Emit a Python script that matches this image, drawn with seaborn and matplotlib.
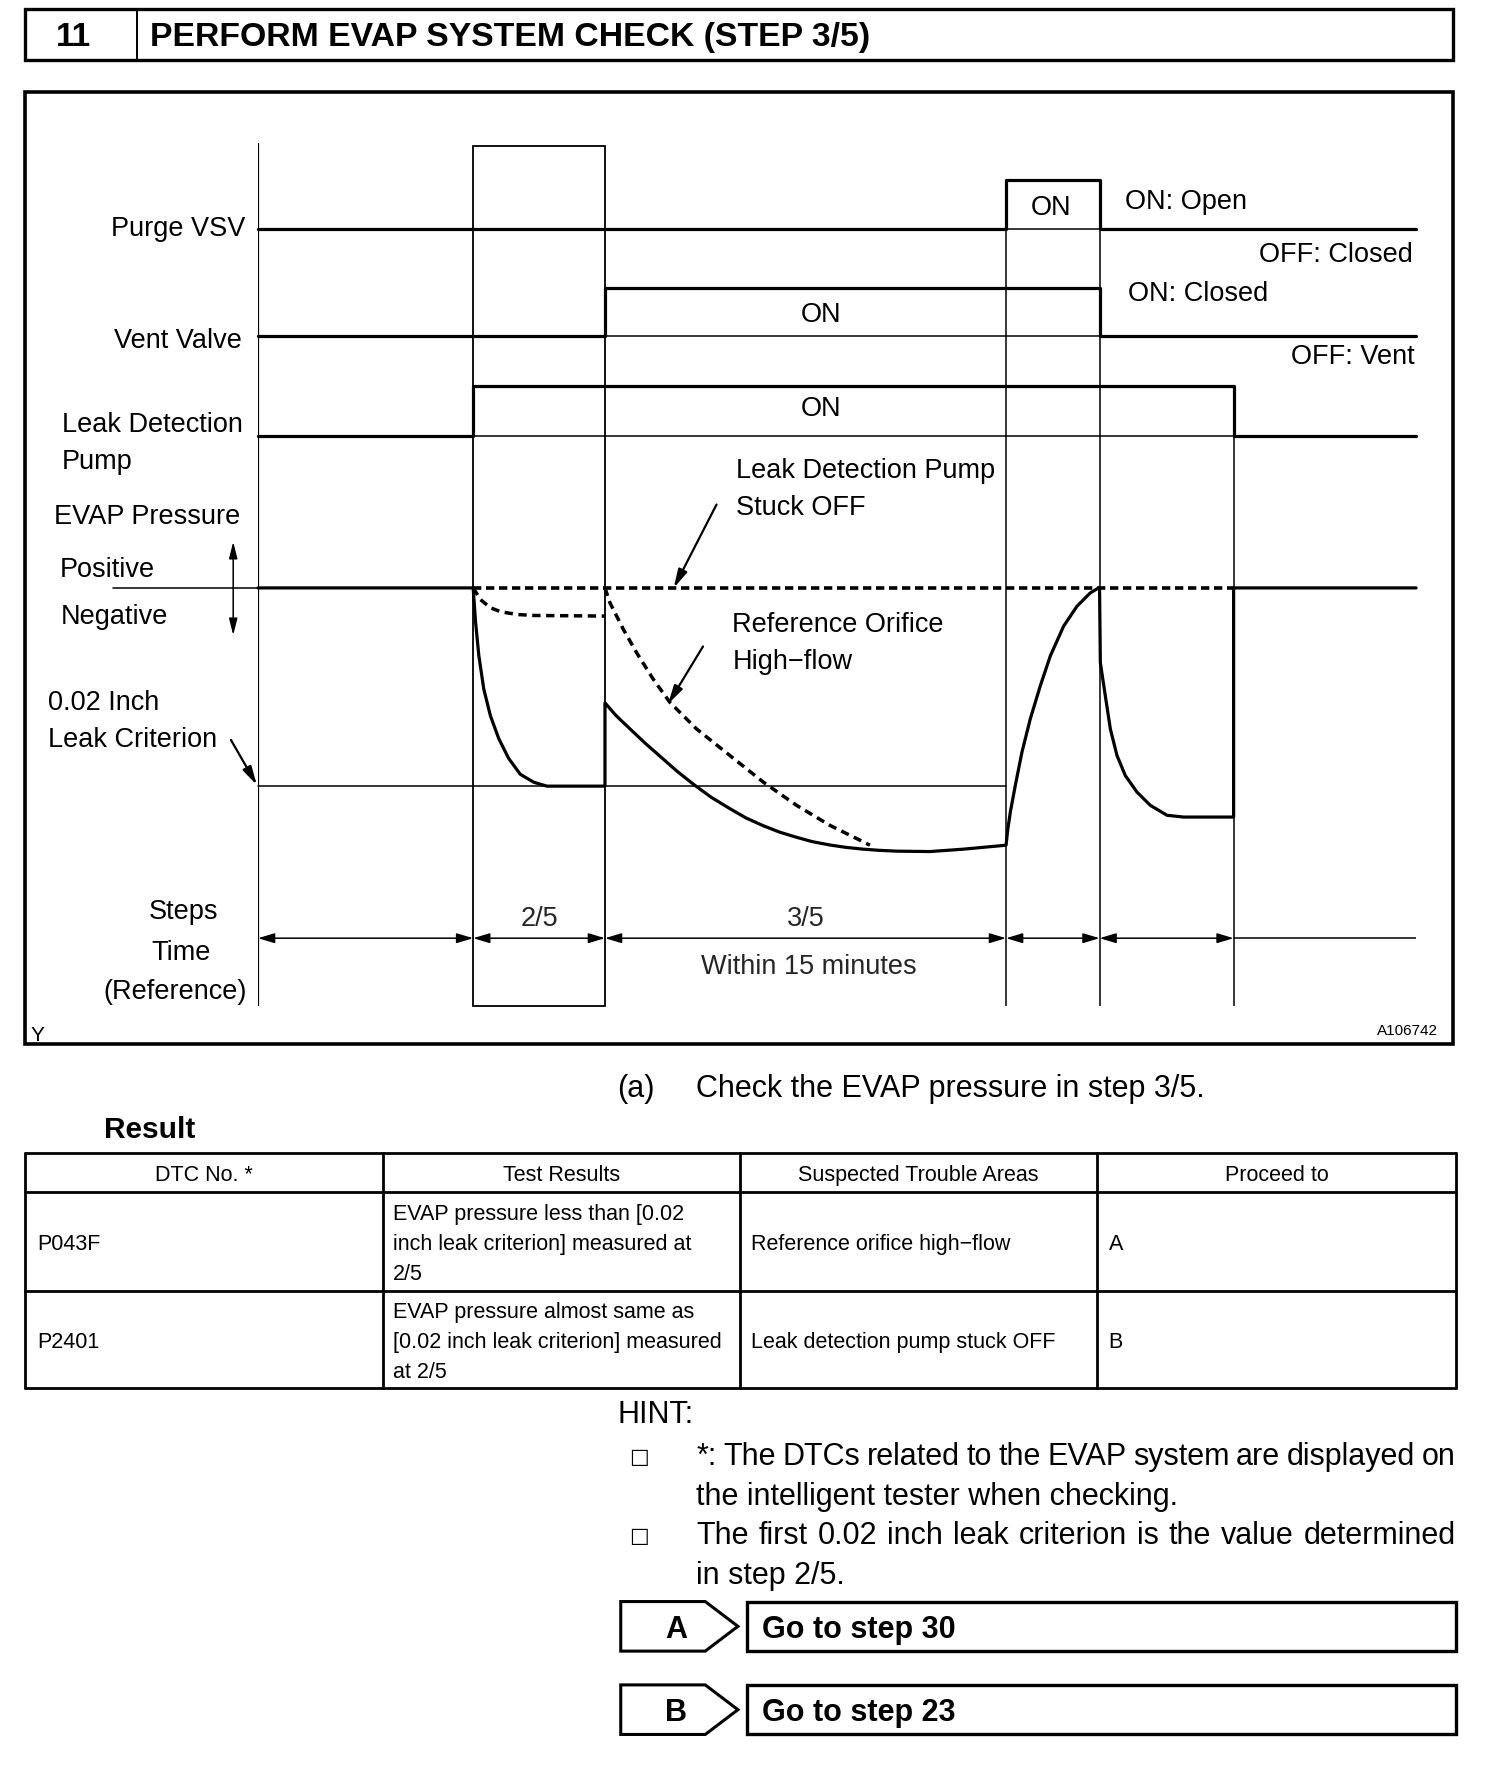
import matplotlib
matplotlib.use("Agg")
import matplotlib.pyplot as plt
from matplotlib.patches import Rectangle, Polygon
import seaborn as sns

sns.set_theme(style="white")
plt.rcParams['font.family'] = ['Liberation Sans', 'DejaVu Sans']

# ========= DATA =========
# time axis of the diagram (arbitrary units), step boundaries
STEP_EDGES = [0, 191, 308, 664, 747, 866, 1028]
STEP_LABELS = {1: "2/5", 2: "3/5"}

# ON/OFF signals (1 = ON)
PURGE_T = [0, 664, 664, 747, 747, 1028]
PURGE_ON = [0, 0, 1, 1, 0, 0]
VENT_T = [0, 308, 308, 747, 747, 1028]
VENT_ON = [0, 0, 1, 1, 0, 0]
PUMP_T = [0, 191, 191, 866, 866, 1028]
PUMP_ON = [0, 0, 1, 1, 0, 0]

# EVAP pressure, in units of the 0.02 inch leak criterion (0 = atmospheric)
NORMAL_T = [0, 191, 193.1, 196, 200.4, 206.3, 213.7, 222.5, 232.8, 244.6, 256.4, 308, 308,
            318, 330, 344, 360, 372, 386.4, 402, 419, 433, 448.6, 463, 478, 492, 507.7,
            522, 537.3, 552, 566.9, 596.5, 626, 664,
            665.5, 667.8, 672.2, 678.1, 685.5, 694.4, 703.3, 715.1, 727, 738.8, 746.2, 747,
            747.7, 752.1, 756.6, 762.5, 769.9, 780.2, 792.1, 806.9, 821.7, 866, 866, 1028]
NORMAL_P = [0, 0, -0.17, -0.34, -0.51, -0.645, -0.76, -0.86, -0.94, -0.98, -1.0, -1.0, -0.58,
            -0.645, -0.71, -0.785, -0.865, -0.925, -0.99, -1.055, -1.114, -1.16, -1.2, -1.232,
            -1.258, -1.28, -1.297, -1.309, -1.318, -1.324, -1.328, -1.33, -1.318, -1.298,
            -1.22, -1.131, -0.997, -0.829, -0.661, -0.494, -0.343, -0.193, -0.092, -0.025, 0, 0,
            -0.377, -0.544, -0.712, -0.846, -0.947, -1.03, -1.097, -1.147, -1.156, -1.156, 0, 0]
STUCK_T = [191, 866]
STUCK_P = [0, 0]
HIGHFLOW_A_T = [191, 197.5, 206.3, 215.2, 229.9, 244.6, 308]
HIGHFLOW_A_P = [0, -0.059, -0.10, -0.12, -0.134, -0.139, -0.142]
HIGHFLOW_B_T = [308, 312.4, 324.3, 336.1, 350.9, 365.7, 389.4, 419, 448.6, 478.1, 507.7, 537.3, 543.2]
HIGHFLOW_B_P = [0, -0.075, -0.209, -0.327, -0.461, -0.578, -0.712, -0.846, -0.98, -1.097, -1.198, -1.281, -1.298]
CRITERION_T = [0, 664]
CRITERION_P = [-1, -1]

# table
TABLE_HEADER = ["DTC No. *", "Test Results", "Suspected Trouble Areas", "Proceed to"]
TABLE_ROWS = [
    ["P043F", ["EVAP pressure less than [0.02", "inch leak criterion] measured at", "2/5"],
     "Reference orifice high\u2212flow", "A"],
    ["P2401", ["EVAP pressure almost same as", "[0.02 inch leak criterion] measured", "at 2/5"],
     "Leak detection pump stuck OFF", "B"],
]
HINT_LINES = [
    ("*: The DTCs related to the EVAP system are displayed on", True),
    ("the intelligent tester when checking.", False),
    ("The first 0.02 inch leak criterion is the value determined", True),
    ("in step 2/5.", False),
]
GOTO = [("A", "Go to step 30"), ("B", "Go to step 23")]

# ========= LAYOUT =========
W, H = 1335, 1568          # layout units (figure is 1504x1766 px)
PX = 1504 / W
X0, X1 = 229, 1257          # diagram time axis in layout units
THICK, THIN = 2.3, 1.1
DY = 3                      # text baseline nudge

fig = plt.figure(figsize=(15.04, 17.66), dpi=100)
bg = fig.add_axes([0, 0, 1, 1])
bg.set_xlim(0, W)
bg.set_ylim(H, 0)
bg.axis('off')


def place(x0, x1, ytop, ybot):
    ax = fig.add_axes([x0 / W, 1 - ybot / H, (x1 - x0) / W, (ybot - ytop) / H])
    ax.axis('off')
    ax.patch.set_alpha(0)
    return ax


def track(py_a, v_a, py_b, v_b, pad=40):
    # axes whose y scale maps value v_a to layout row py_a and v_b to py_b
    top, bot = min(py_a, py_b) - pad, max(py_a, py_b) + pad
    k = (v_b - v_a) / (py_b - py_a)
    ax = place(X0, X1, top, bot)
    ax.set_xlim(STEP_EDGES[0], STEP_EDGES[-1])
    ax.set_ylim(v_a + (bot - py_a) * k, v_a + (top - py_a) * k)
    return ax


def line(ax, x, y, lw=THICK, ls='-'):
    sns.lineplot(x=x, y=y, ax=ax, color='black', linewidth=lw, linestyle=ls,
                 estimator=None, sort=False, legend=False)
    for l in ax.lines:
        l.set_clip_on(False)


def txt(x, y, s, size=19.5, ha='left', weight='normal', **kw):
    return bg.text(x, y + DY, s, fontsize=size, ha=ha, va='center', weight=weight,
                   color='black', **kw)


def arrow(x0, y0, x1, y1, style='-|>,head_length=1.1,head_width=0.28', ax=None, lw=1.6):
    (ax or bg).annotate('', xy=(x1, y1), xytext=(x0, y0),
                        arrowprops=dict(arrowstyle=style, color='black', lw=lw,
                                        shrinkA=0, shrinkB=0, mutation_scale=10))


# ---- title ----
bg.add_patch(Rectangle((22, 8), 1268, 45, fill=False, lw=2.4, ec='black'))
bg.plot([122, 122], [8, 53], color='black', lw=1.4)
txt(65, 30, "11", size=24, ha='center', weight='bold')
txt(133, 30, "PERFORM EVAP SYSTEM CHECK (STEP 3/5)", size=24.3, weight='bold')

# ---- diagram frame ----
bg.add_patch(Rectangle((22, 82), 1268, 845, fill=False, lw=2.6, ec='black'))

grid = place(X0, X1, 0, H)
grid.set_xlim(STEP_EDGES[0], STEP_EDGES[-1])
grid.set_ylim(H, 0)
grid.vlines(STEP_EDGES[0], 127, 893, color='black', lw=1.6)
grid.add_patch(Rectangle((STEP_EDGES[1], 130), STEP_EDGES[2] - STEP_EDGES[1], 763,
                         fill=False, lw=THIN + 0.2, ec='black'))
grid.vlines(STEP_EDGES[3:5], 160, 893, color='black', lw=THIN)
grid.vlines(STEP_EDGES[5], 343, 893, color='black', lw=THIN)

# time arrows
for i in range(5):
    arrow(STEP_EDGES[i], 833, STEP_EDGES[i + 1], 833, ax=grid, lw=1.1,
          style='<|-|>,head_length=1.0,head_width=0.3')
grid.plot(STEP_EDGES[5:7], [833, 833], color='black', lw=1.1)
for i, lab in STEP_LABELS.items():
    grid.text((STEP_EDGES[i] + STEP_EDGES[i + 1]) / 2, 813 + DY, lab, fontsize=19.5,
              ha='center', va='center')
grid.text((STEP_EDGES[2] + STEP_EDGES[3]) / 2 + 3, 856 + DY, "Within 15 minutes",
          fontsize=19.5, ha='center', va='center')

# ---- ON/OFF tracks ----
for (t, v, low, high) in [(PURGE_T, PURGE_ON, 203, 160),
                          (VENT_T, VENT_ON, 298, 256),
                          (PUMP_T, PUMP_ON, 387, 343)]:
    ax = track(low, 0, high, 1)
    ax.plot([STEP_EDGES[0], STEP_EDGES[-1]], [0, 0], color='black', lw=THIN, clip_on=False)
    line(ax, t, v)

# ---- EVAP pressure ----
pax = track(522, 0, 698, -1, pad=60)
pax.plot([-129, 0], [0, 0], color='black', lw=THIN, clip_on=False)
line(pax, CRITERION_T, CRITERION_P, lw=THIN)
line(pax, STUCK_T, STUCK_P, lw=2.6, ls=(0, (2.3, 1.3)))
line(pax, HIGHFLOW_A_T, HIGHFLOW_A_P, lw=2.5, ls=(0, (2.4, 1.6)))
line(pax, HIGHFLOW_B_T, HIGHFLOW_B_P, lw=2.5, ls=(0, (2.4, 1.6)))
line(pax, NORMAL_T, NORMAL_P)

# ---- diagram labels ----
txt(218, 200, "Purge VSV", ha='right')
txt(215, 300, "Vent Valve", ha='right')
txt(55, 374, "Leak Detection")
txt(55, 407, "Pump")
txt(48, 456, "EVAP Pressure")
txt(53, 503, "Positive")
txt(54, 545, "Negative")
txt(43, 621, "0.02 Inch")
txt(43, 654, "Leak Criterion")
txt(163, 807, "Steps", ha='center')
txt(161, 843, "Time", ha='center')
txt(155, 878, "(Reference)", ha='center')
txt(933, 182, "ON", ha='center')
txt(729, 277, "ON", ha='center')
txt(729, 360, "ON", ha='center')
txt(999, 176, "ON: Open")
txt(1254, 223, "OFF: Closed", ha='right')
txt(1001, 258, "ON: Closed")
txt(1256, 314, "OFF: Vent", ha='right')
txt(653, 415, "Leak Detection Pump")
txt(653, 448, "Stuck OFF")
txt(650, 552, "Reference Orifice")
txt(650, 585, "High\u2212flow")
txt(1276, 912, "A106742", size=11, ha='right')
txt(27, 916, "Y", size=15)

arrow(207, 522, 207, 481, lw=1.1, style='-|>,head_length=1.0,head_width=0.25')
arrow(207, 522, 207, 564, lw=1.1, style='-|>,head_length=1.0,head_width=0.25')
arrow(205, 657, 228, 697)
arrow(636, 448, 598, 522)
arrow(624, 574, 593, 625)

# ---- text below ----
txt(548, 964, "(a)", size=22)
txt(618, 964, "Check the EVAP pressure in step 3/5.", size=22)
txt(92, 1000, "Result", size=21.5, weight='bold')

cols = [22, 340, 657, 974, 1292]
rows = [1024, 1058, 1146, 1232]
for y in rows:
    bg.plot([cols[0], cols[-1]], [y, y], color='black', lw=2.0)
for x in cols:
    bg.plot([x, x], [rows[0], rows[-1]], color='black', lw=2.0)
for i, h in enumerate(TABLE_HEADER):
    txt((cols[i] + cols[i + 1]) / 2, 1041, h, size=15.5, ha='center')
for r, (dtc, result, area, proceed) in enumerate(TABLE_ROWS):
    yc = (rows[r + 1] + rows[r + 2]) / 2
    txt(cols[0] + 11, yc, dtc, size=15.5)
    for j, s in enumerate(result):
        txt(cols[1] + 9, yc + (j - 1) * 27, s, size=15.5)
    txt(cols[2] + 10, yc, area, size=15.5)
    txt(cols[3] + 10, yc, proceed, size=15.5)

txt(548, 1253, "HINT:", size=22)
renderer = fig.canvas.get_renderer()
for k, (s, justify) in enumerate(HINT_LINES):
    y = 1291 + k * 35
    if k % 2 == 0:
        txt(567, y, "\u25a1", size=15, ha='center', family=['DejaVu Sans'])
    if not justify:
        txt(618, y, s, size=22)
        continue
    words = [txt(618, y, w, size=22) for w in s.split()]
    widths = [w.get_window_extent(renderer).width / PX for w in words]
    gap = (1292 - 618 - sum(widths)) / (len(words) - 1)
    x = 618
    for w, wd in zip(words, widths):
        w.set_x(x)
        x += wd + gap

for k, (code, target) in enumerate(GOTO):
    y0 = 1422 + k * 74
    bg.add_patch(Polygon([(551, y0), (626, y0), (655, y0 + 22), (626, y0 + 44), (551, y0 + 44)],
                         closed=True, fill=False, lw=2.2, ec='black'))
    bg.add_patch(Rectangle((663, y0), 629, 44, fill=False, lw=2.4, ec='black'))
    txt(600, y0 + 22, code, size=22, ha='center', weight='bold')
    txt(676, y0 + 22, target, size=22, weight='bold')

fig.savefig("out.png", dpi=100)
